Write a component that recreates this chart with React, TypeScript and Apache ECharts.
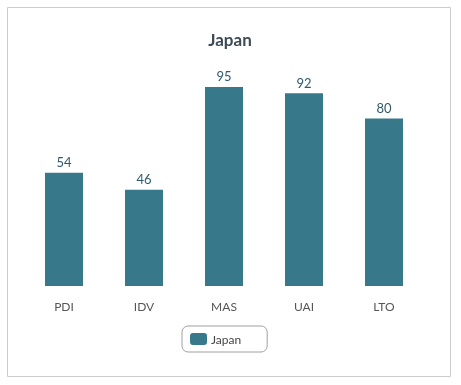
import React, { useEffect, useRef } from "react";
import * as echarts from "echarts";

const categories = ["PDI", "IDV", "MAS", "UAI", "LTO"];
const japanValues = [54, 46, 95, 92, 80];
const seriesName = "Japan";

export default function App() {
  const ref = useRef<HTMLDivElement>(null);
  useEffect(() => {
    if (!ref.current) return;
    const chart = echarts.init(ref.current, null, { renderer: "svg" });
    const font = "Lato, 'Open Sans', sans-serif";
    chart.setOption({
      animation: false,
      textStyle: { fontFamily: font },
      graphic: [
        {
          type: "rect",
          shape: { x: 7.5, y: 7.5, width: 443, height: 369 },
          style: { fill: "none", stroke: "#cccccc", lineWidth: 1 },
          silent: true,
        },
      ],
      title: {
        text: "Japan",
        left: 225,
        top: 26,
        textAlign: "center",
        textStyle: { fontSize: 17, fontWeight: "bold", color: "#3d4b57", fontFamily: font },
      },
      legend: {
        data: [seriesName],
        left: 182,
        top: 326,
        borderWidth: 1,
        borderColor: "#a0a0a0",
        borderRadius: 6,
        padding: [7, 26, 7, 8],
        itemWidth: 17,
        itemHeight: 12,
        itemGap: 5,
        itemStyle: { borderRadius: 3 },
        textStyle: { fontSize: 12, color: "#444", fontFamily: font, padding: [0, 0, 0, -1] },
      },
      grid: { left: 24, right: 37, top: 76.5, bottom: 99, containLabel: false },
      xAxis: {
        type: "category",
        data: categories,
        axisLine: { show: false },
        axisTick: { show: false },
        axisLabel: { margin: 14, fontSize: 12, color: "#555", fontFamily: font },
      },
      yAxis: {
        type: "value",
        min: 0,
        max: 100,
        show: false,
        splitLine: { show: false },
      },
      series: [
        {
          name: seriesName,
          type: "bar",
          data: japanValues,
          barWidth: 38,
          itemStyle: { color: "#37788b" },
          label: {
            show: true,
            position: "top",
            distance: 4,
            fontSize: 13,
            color: "#2f5a6b",
            fontFamily: font,
          },
        },
      ],
    });
    return () => chart.dispose();
  }, []);
  return (
    <div
      ref={ref}
      style={{ position: "fixed", left: 0, top: 0, width: 461, height: 385 }}
    />
  );
}
